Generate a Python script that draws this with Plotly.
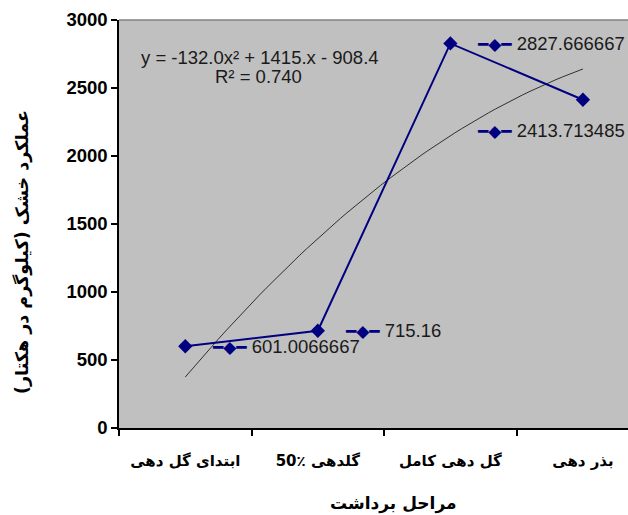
import numpy as np
import plotly.graph_objects as go

categories = ["ابتدای گل دهی", "\u202aگلدهی ٪50\u202c", "گل دهی کامل", "بذر دهی"]
yield_values = [601.0066667, 715.16, 2827.666667, 2413.713485]
y_ticks = [0, 500, 1000, 1500, 2000, 2500, 3000]
eq_text = "y = -132.0x² + 1415.x - 908.4"
r2_text = "R² = 0.740"
x_title = "مراحل برداشت"
y_title = "عملکرد خشک (کیلوگرم در هکتار)\u200f"

NAVY = "#000080"
FONT = "Arial, Liberation Sans, DejaVu Sans, sans-serif"

cat_pos = list(range(len(categories)))

# polynomial trendline (order 2) fitted on the data, x = 1..n
xs = np.arange(1, len(yield_values) + 1)
coef = np.polyfit(xs, yield_values, 2)
xf = np.linspace(1, len(yield_values), 60)
yf = np.polyval(coef, xf)
xf_pos = xf - 1  # category positions 0..n-1

fig = go.Figure()
fig.add_trace(go.Scatter(
    x=xf_pos, y=yf, mode="lines",
    line=dict(color="#303030", width=1), hoverinfo="skip", showlegend=False,
))
fig.add_trace(go.Scatter(
    x=cat_pos, y=yield_values, mode="lines+markers",
    line=dict(color=NAVY, width=2),
    marker=dict(symbol="diamond", size=11, color=NAVY),
    showlegend=False,
))

# data labels with legend key
label_shift = [(25, 0), (25, 0), (25, 0), (-108, -31)]
for i, v in enumerate(yield_values):
    dx, dy = label_shift[i]
    fig.add_annotation(
        x=cat_pos[i], y=v, xref="x", yref="y", showarrow=False,
        xanchor="left", yanchor="middle", xshift=dx, yshift=dy,
        text=(f"<span style='color:{NAVY};font-family:DejaVu Sans;font-size:17px'>━◆━</span>"
              f"&nbsp;{v:.10g}"),
        font=dict(family=FONT, size=18.5, color="#1a1a1a"),
    )

fig.add_annotation(x=(260 - 119) / 509, y=(428 - 57) / 408, xref="paper", yref="paper",
                   text=eq_text, showarrow=False, xanchor="center", yanchor="middle",
                   font=dict(family=FONT, size=18.5, color="#1a1a1a"))
fig.add_annotation(x=(258 - 119) / 509, y=(428 - 77) / 408, xref="paper", yref="paper",
                   text=r2_text, showarrow=False, xanchor="center", yanchor="middle",
                   font=dict(family=FONT, size=18.5, color="#1a1a1a"))

fig.add_annotation(x=(393 - 119) / 509, y=(428 - 503) / 408, xref="paper", yref="paper",
                   text=x_title, showarrow=False, xanchor="center", yanchor="middle",
                   font=dict(family="DejaVu Sans", size=17, color="#000000", weight="bold"))
fig.add_annotation(x=(22 - 119) / 509, y=(428 - 252) / 408, xref="paper", yref="paper",
                   text=y_title, showarrow=False, textangle=-90,
                   xanchor="center", yanchor="middle",
                   font=dict(family="DejaVu Sans", size=17.5, color="#000000", weight="bold"))

# top border of plot area
fig.add_shape(type="line", xref="paper", yref="paper", x0=0, x1=1, y0=1, y1=1,
              line=dict(color="#808080", width=1.5))

fig.update_layout(
    width=628, height=515,
    margin=dict(l=119, r=0, t=20, b=87),
    paper_bgcolor="white", plot_bgcolor="#C0C0C0",
    xaxis=dict(
        range=[-0.5, 3.34],
        tickmode="array", tickvals=cat_pos, ticktext=categories,
        ticks="", showline=True, linecolor="#000000", linewidth=1.5,
        minor=dict(tick0=-0.5, dtick=1, ticks="outside", ticklen=6,
                   tickcolor="#000000", tickwidth=1.5, showgrid=False),
        showgrid=False, zeroline=False,
        ticklabelstandoff=18,
        tickfont=dict(family="DejaVu Sans", size=15, color="#000000", weight="bold"),
    ),
    yaxis=dict(
        range=[0, 3000], tickvals=y_ticks, ticksuffix="\u00a0\u00a0\u00a0",
        ticks="outside", ticklen=6, tickcolor="#000000", tickwidth=1.5,
        showline=True, linecolor="#000000", linewidth=1.5,
        showgrid=False, zeroline=False,
        tickfont=dict(family=FONT, size=18.5, color="#000000", weight="bold"),
    ),
)

fig.write_html("out.html", config={"displayModeBar": False},
               post_script="document.body.style.margin='0';")
